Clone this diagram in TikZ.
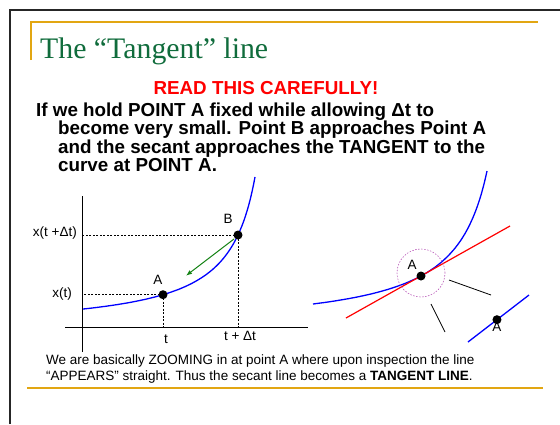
\documentclass[tikz,border=0pt]{standalone}
\usepackage{fontspec}
\setmainfont{Liberation Sans}
\newfontfamily\titlefont{Liberation Serif}
\usetikzlibrary{arrows.meta,positioning,calc}
\definecolor{slidegold}{RGB}{226,166,18}
\definecolor{titlegreen}{RGB}{16,108,60}
\definecolor{secantC}{RGB}{20,130,20}
\definecolor{zoomC}{RGB}{185,90,185}

\begin{document}
\begin{tikzpicture}[x=1pt,y=-1pt,>=Latex,
  dot/.style={circle,fill=black,inner sep=0pt,minimum size=9pt},
  guide/.style={dash pattern=on 2pt off 1.5pt,line width=0.5pt},
  lbl/.style={font=\fontsize{13.5}{16}\selectfont,inner sep=0pt},
  curveC/.style={blue,line width=1.3pt}]
  \useasboundingbox (0,0) rectangle (560,424);
  % slide frame and rules
  \draw[black!85,line width=2pt] (10,424) -- (10,10) -- (560,10);
  \draw[slidegold,line width=1.2pt] (31,60) -- (31,22) -- (538,22);
  \draw[slidegold,line width=1.2pt] (27,388) -- (543,388);
  \node[anchor=base west,inner sep=0pt,text=titlegreen,
        font=\titlefont\fontsize{29.8}{30}\selectfont] (title) at (40,58)
    {The “Tangent” line};
  \node[anchor=base,inner sep=0pt,text=red,
        font=\bfseries\fontsize{18.8}{19}\selectfont] (warn) at (266,94)
    {READ THIS CAREFULLY!};
  \node[anchor=north west,inner sep=0pt,align=left,
        font=\bfseries\fontsize{18.8}{18.6}\selectfont] (body) at (36,102.3)
    {If we hold POINT A fixed while allowing Δt to\\
     \hspace*{22pt}become very small. Point B approaches Point A\\
     \hspace*{22pt}and the secant approaches the TANGENT to the\\
     \hspace*{22pt}curve at POINT A.};

  % left graph
  \coordinate (yaxTop) at (82,196);
  \coordinate (yaxBot) at (82,352);
  \coordinate (xaxL) at (65,327);
  \coordinate (xaxR) at (308,327);
  \draw[line width=1pt] (yaxBot) -- (yaxTop);
  \draw[line width=1pt] (xaxL) -- (xaxR);
  \draw[curveC,domain=83:255,samples=120,smooth]
     plot (\x,{309-4300*(1/(283-\x)-0.005)});
  \coordinate (A) at (163,294.7);
  \coordinate (B) at (238,235);
  \draw[guide] (A) -- (A |- xaxL);
  \draw[guide] (A) -- (A -| yaxTop);
  \draw[guide] (B) -- (B |- xaxL);
  \draw[guide] (B) -- (B -| yaxTop);
  \coordinate (arrS) at ($(B)+(-4,4)$);
  \coordinate (arrE) at ($(A)+(23,-19)$);
  \draw[-{Latex[length=6pt,width=4.5pt]},secantC,line width=1pt] (arrS) -- (arrE);
  \node[dot] (dotA) at (A) {};
  \node[dot] (dotB) at (B) {};
  \node[lbl] (labA) at (158,280) {A};
  \node[lbl] (labB) at (228,219) {B};
  \node[lbl,anchor=east] (xt) at (72,294) {x(t)};
  \node[lbl,anchor=east] (xtdt) at (77,233) {x(t +Δt)};
  \node[lbl] (tA) at (166,339) {t};
  \node[lbl] (tB) at (240,336) {t + Δt};

  % zoomed view
  \draw[curveC,domain=313:487,samples=120,smooth]
     plot (\x,{304-5400*(1/(521-\x)-1/208)});
  \coordinate (Az) at (421,276);
  \coordinate (tanL) at ($(Az)+(-75,42)$);
  \coordinate (tanR) at ($(Az)+(89,-50)$);
  \draw[red,line width=1.2pt] (tanL) -- (tanR);
  \draw[zoomC,dash pattern=on 1.5pt off 1.5pt,line width=0.6pt]
     (421,273) circle[radius=24pt];
  \node[dot] (dotAz) at (Az) {};
  \node[lbl] (labAz) at (412,265) {A};
  \coordinate (rayAs) at (449,280);
  \coordinate (rayAe) at (491,295);
  \coordinate (rayBs) at (431,304);
  \coordinate (rayBe) at (445,332);
  \draw[line width=0.8pt] (rayAs) -- (rayAe);
  \draw[line width=0.8pt] (rayBs) -- (rayBe);
  \coordinate (zlo) at (468,342);
  \coordinate (zhi) at (529,295);
  \draw[curveC] (zlo) -- (zhi);
  \coordinate (Ap) at ($(zlo)!0.475!(zhi)$);
  \node[dot] (dotAp) at (Ap) {};
  \node[lbl,below=2pt of dotAp.center] (labAp) {A};

  \node[anchor=north west,inner sep=0pt,align=left,
        font=\fontsize{13.5}{16}\selectfont] (note) at (46,354.3)
    {We are basically ZOOMING in at point A where upon inspection the line\\
     “APPEARS” straight. Thus the secant line becomes a \textbf{TANGENT LINE}.};
\end{tikzpicture}
\end{document}
